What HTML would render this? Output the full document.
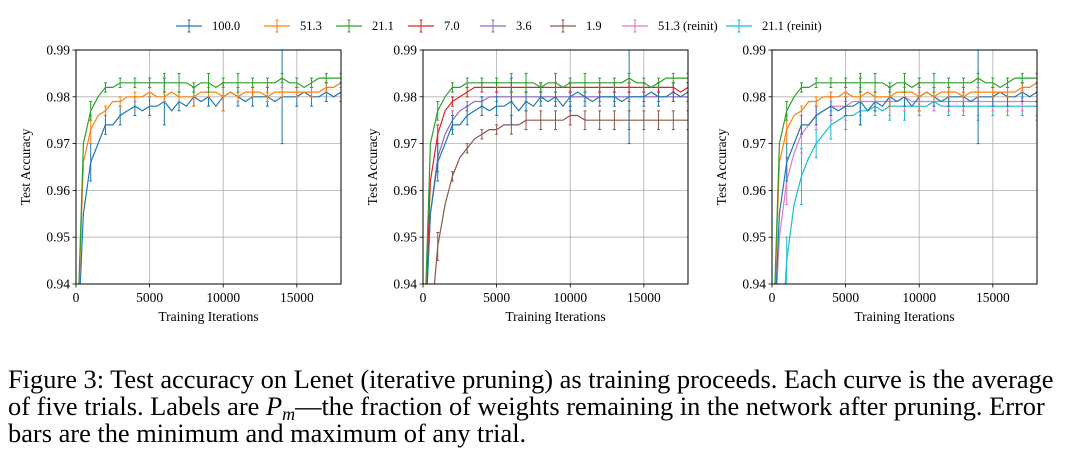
<!DOCTYPE html>
<html><head><meta charset="utf-8">
<style>
body{margin:0;background:#fff;width:1065px;height:451px;overflow:hidden;position:relative;font-family:"Liberation Serif",serif;}
svg{position:absolute;left:0;top:0;}
.cap{position:absolute;left:8px;top:366px;width:1057px;font-size:26.4px;line-height:27px;color:#000;font-family:"Liberation Serif",serif;white-space:nowrap;}
.cap sub{font-size:18px;line-height:0;vertical-align:-5px;}
</style></head>
<body>
<svg id="chart" width="1065" height="350"></svg>
<div class="cap">Figure 3: Test accuracy on Lenet (iterative pruning) as training proceeds. Each curve is the average<br>of five trials. Labels are <i>P<sub>m</sub></i>—the fraction of weights remaining in the network after pruning. Error<br>bars are the minimum and maximum of any trial.</div>
<script>
const iters = [0,500,1000,1500,2000,2500,3000,3500,4000,4500,5000,5500,6000,6500,7000,7500,8000,8500,9000,9500,10000,10500,11000,11500,12000,12500,13000,13500,14000,14500,15000,15500,16000,16500,17000,17500,18000];
const yTicks = [0.94,0.95,0.96,0.97,0.98,0.99];
const xTicks = [0,5000,10000,15000];
const s100 = [0.92,0.955,0.966,0.970,0.974,0.974,0.976,0.977,0.978,0.977,0.978,0.978,0.979,0.977,0.979,0.978,0.980,0.979,0.980,0.978,0.980,0.981,0.980,0.979,0.980,0.980,0.980,0.979,0.980,0.980,0.980,0.981,0.980,0.980,0.981,0.980,0.981];
const s513 = [0.92,0.966,0.973,0.976,0.977,0.979,0.979,0.980,0.980,0.980,0.981,0.980,0.980,0.981,0.980,0.980,0.980,0.981,0.981,0.981,0.980,0.981,0.980,0.981,0.981,0.981,0.980,0.981,0.981,0.981,0.981,0.981,0.981,0.981,0.982,0.982,0.983];
const s211 = [0.92,0.970,0.977,0.980,0.982,0.982,0.983,0.983,0.983,0.983,0.983,0.983,0.983,0.983,0.983,0.983,0.982,0.983,0.983,0.982,0.983,0.983,0.983,0.983,0.983,0.983,0.983,0.983,0.984,0.983,0.983,0.982,0.983,0.984,0.984,0.984,0.984];
const s70 = [0.92,0.962,0.972,0.977,0.979,0.980,0.981,0.982,0.982,0.982,0.982,0.982,0.982,0.982,0.982,0.982,0.982,0.982,0.982,0.982,0.982,0.982,0.982,0.982,0.982,0.982,0.982,0.982,0.982,0.982,0.982,0.982,0.982,0.982,0.982,0.981,0.982];
const s36 = [0.92,0.955,0.967,0.972,0.975,0.977,0.978,0.979,0.979,0.980,0.980,0.980,0.980,0.980,0.980,0.980,0.980,0.980,0.980,0.980,0.980,0.980,0.980,0.980,0.980,0.980,0.980,0.980,0.980,0.980,0.980,0.980,0.980,0.980,0.980,0.980,0.980];
const s19 = [0.90,0.93,0.948,0.957,0.963,0.967,0.969,0.971,0.972,0.973,0.973,0.974,0.974,0.974,0.975,0.975,0.975,0.975,0.975,0.975,0.976,0.976,0.975,0.975,0.975,0.975,0.975,0.975,0.975,0.975,0.975,0.975,0.975,0.975,0.975,0.975,0.975];
const s513r = [0.92,0.950,0.962,0.968,0.972,0.974,0.976,0.977,0.978,0.978,0.978,0.979,0.979,0.979,0.979,0.979,0.979,0.979,0.980,0.979,0.979,0.979,0.979,0.979,0.979,0.979,0.979,0.979,0.979,0.979,0.979,0.979,0.979,0.979,0.979,0.979,0.979];
const s211r = [0.90,0.92,0.945,0.957,0.963,0.967,0.970,0.972,0.974,0.975,0.976,0.976,0.977,0.977,0.978,0.977,0.978,0.978,0.978,0.978,0.978,0.978,0.979,0.978,0.978,0.978,0.978,0.978,0.978,0.978,0.978,0.978,0.978,0.978,0.978,0.978,0.978];
// error half-widths at every 1000 iterations
const e100 = [0,0.004,0.002,0.002,0.002,0.002,0.005,0.002,0.002,0.002,0.003,0.002,0.002,0.002,0.010,0.002,0.002,0.002,0.002];
const e513 = [0,0.003,0.001,0.001,0.001,0.001,0.001,0.001,0.002,0.001,0.003,0.001,0.001,0.001,0.001,0.001,0.001,0.001,0.001];
const e211 = [0,0.002,0.001,0.001,0.001,0.001,0.002,0.002,0.001,0.002,0.001,0.002,0.001,0.001,0.001,0.001,0.001,0.001,0.001];
const e70 = [0,0.002,0.001,0.001,0.001,0.001,0.001,0.001,0.001,0.001,0.001,0.001,0.001,0.001,0.001,0.001,0.001,0.001,0.001];
const e36 = [0,0.003,0.002,0.001,0.001,0.001,0.001,0.001,0.001,0.001,0.001,0.001,0.001,0.001,0.001,0.001,0.001,0.001,0.001];
const e19 = [0,0.003,0.001,0.001,0.001,0.001,0.002,0.002,0.002,0.002,0.002,0.002,0.002,0.002,0.002,0.002,0.002,0.002,0.002];
const e513r = [0,0.005,0.004,0.003,0.003,0.003,0.003,0.002,0.003,0.003,0.002,0.002,0.002,0.002,0.003,0.002,0.002,0.002,0.003];
const e211r = [0,0.005,0.006,0.003,0.003,0.003,0.003,0.002,0.003,0.003,0.002,0.002,0.002,0.002,0.003,0.002,0.002,0.002,0.003];

const SER = {
 "100.0":{v:s100,e:e100,c:"#1f77b4"},
 "51.3":{v:s513,e:e513,c:"#ff7f0e"},
 "21.1":{v:s211,e:e211,c:"#2ca02c"},
 "7.0":{v:s70,e:e70,c:"#d62728"},
 "3.6":{v:s36,e:e36,c:"#9467bd"},
 "1.9":{v:s19,e:e19,c:"#8c564b"},
 "51.3 (reinit)":{v:s513r,e:e513r,c:"#e377c2"},
 "21.1 (reinit)":{v:s211r,e:e211r,c:"#17becf"}
};
const panels = [
 {x0:76,keys:["100.0","51.3","21.1"]},
 {x0:423,keys:["1.9","3.6","100.0","7.0","21.1"]},
 {x0:772,keys:["21.1 (reinit)","51.3 (reinit)","100.0","51.3","21.1"]}
];
const NS="http://www.w3.org/2000/svg";
const svg=document.getElementById('chart');
function mk(tag,attrs,parent){const el=document.createElementNS(NS,tag);for(const k in attrs)el.setAttribute(k,attrs[k]);(parent||svg).appendChild(el);return el;}
const W=265,T=50,B=284,FS='13.5';
panels.forEach((p,pi)=>{
 const xs=v=>p.x0+v/18000*W;
 const ys=v=>B-(v-0.94)/0.05*(B-T);
 const g=mk('g',{});
 
 
 const cp=mk('clipPath',{id:'cp'+pi},g);mk('rect',{x:p.x0,y:T,width:W,height:B-T},cp);
 yTicks.forEach(t=>{const l=mk('line',{x1:p.x0,x2:p.x0+W,y1:ys(t),y2:ys(t),stroke:'#b0b0b0','stroke-width':0.8},g);
  
  mk('line',{x1:p.x0-3.5,x2:p.x0,y1:ys(t),y2:ys(t),stroke:'#000','stroke-width':0.8},g);
  const tx=mk('text',{x:p.x0-6,y:ys(t)+4.5,'text-anchor':'end','font-size':FS,'font-family':'Liberation Serif, serif'},g);tx.textContent=t.toFixed(2);
  });
 xTicks.forEach(t=>{const l=mk('line',{x1:xs(t),x2:xs(t),y1:T,y2:B,stroke:'#b0b0b0','stroke-width':0.8},g);
  
  mk('line',{x1:xs(t),x2:xs(t),y1:B,y2:B+3.5,stroke:'#000','stroke-width':0.8},g);
  const tx=mk('text',{x:xs(t),y:B+18,'text-anchor':'middle','font-size':FS,'font-family':'Liberation Serif, serif'},g);tx.textContent=t;
  });
 const sg=mk('g',{'clip-path':'url(#cp'+pi+')'},g);
 p.keys.forEach(k=>{const s=SER[k];
  const pts=s.v.map((v,i)=>xs(iters[i]).toFixed(1)+','+ys(v).toFixed(1)).join(' ');
  const pl=mk('polyline',{points:pts,fill:'none',stroke:s.c,'stroke-width':1.2},sg);
  
  s.e.forEach((e,j)=>{if(!e)return;const i=j*2;const x=xs(iters[i]);const v=s.v[i];
   const eb=mk('line',{x1:x,x2:x,y1:ys(v-e),y2:ys(v+e),stroke:s.c,'stroke-width':1},sg);
   
   mk('line',{x1:x-1.5,x2:x+1.5,y1:ys(v-e),y2:ys(v-e),stroke:s.c,'stroke-width':1},sg);
   mk('line',{x1:x-1.5,x2:x+1.5,y1:ys(v+e),y2:ys(v+e),stroke:s.c,'stroke-width':1},sg);});
 });
 const fr=mk('rect',{x:p.x0,y:T,width:W,height:B-T,fill:'none',stroke:'#000','stroke-width':1},g);
 
 const xl=mk('text',{x:p.x0+W/2,y:B+37,'text-anchor':'middle','font-size':FS,'font-family':'Liberation Serif, serif'},g);xl.textContent='Training Iterations';
 
 const yl=mk('text',{x:0,y:0,'text-anchor':'middle','font-size':FS,'font-family':'Liberation Serif, serif',transform:`translate(${p.x0-46},${(T+B)/2}) rotate(-90)`},g);yl.textContent='Test Accuracy';
 
});
// legend
const legKeys=["100.0","51.3","21.1","7.0","3.6","1.9","51.3 (reinit)","21.1 (reinit)"];
const legX=[176,264,336,408,480,550,622,726];
legKeys.forEach((k,i)=>{const c=SER[k].c,x=legX[i],y=26;
 const lg=mk('g',{});
 
 mk('line',{x1:x,x2:x+26,y1:y,y2:y,stroke:c,'stroke-width':1.2},lg);
 mk('line',{x1:x+13,x2:x+13,y1:y-6,y2:y+6,stroke:c,'stroke-width':1},lg);
 mk('line',{x1:x+11.5,x2:x+14.5,y1:y-6,y2:y-6,stroke:c,'stroke-width':1},lg);
 mk('line',{x1:x+11.5,x2:x+14.5,y1:y+6,y2:y+6,stroke:c,'stroke-width':1},lg);
 const t=mk('text',{x:x+36,y:y+4,'font-size':'12.5','font-family':'Liberation Serif, serif'},lg);t.textContent=k;});
</script>
</body></html>
